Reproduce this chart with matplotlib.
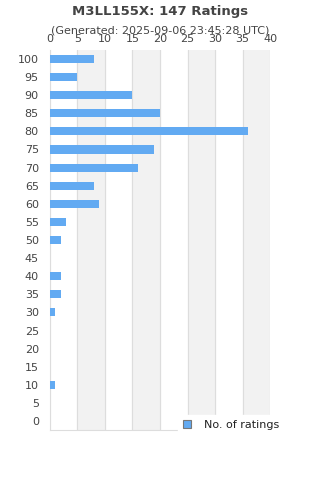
import numpy as np
import matplotlib
matplotlib.use("Agg")
import matplotlib.pyplot as plt

ratings = [0, 5, 10, 15, 20, 25, 30, 35, 40, 45, 50, 55, 60, 65, 70, 75, 80, 85, 90, 95, 100]
counts = [0, 0, 1, 0, 0, 0, 1, 2, 2, 0, 2, 3, 9, 8, 16, 19, 36, 20, 15, 5, 8]
xticks = [0, 5, 10, 15, 20, 25, 30, 35, 40]

txt = '#444444'
bar_color = '#62aaf2'

fig = plt.figure(figsize=(3.2, 4.8), dpi=100)
ax = fig.add_axes([0.156, 0.104, 0.688, 0.792])

pos = np.arange(len(ratings))
ax.barh(pos, counts, height=0.45, color=bar_color, label='No. of ratings', zorder=3)

# alternating bands
for i in range(1, len(xticks) - 1, 2):
    ax.axvspan(xticks[i], xticks[i + 1], color='#f2f2f2', zorder=0)
for x in xticks:
    ax.axvline(x, color='#dddddd', lw=0.8, zorder=1)

ax.set_xlim(0, 40)
ax.set_ylim(-0.5, len(ratings) - 0.5)
ax.set_yticks(pos)
ax.set_yticklabels([str(r) for r in ratings], fontsize=8, color=txt)
ax.set_xticks(xticks)
ax.set_xticklabels([str(x) for x in xticks], fontsize=8, color=txt)
ax.xaxis.tick_top()
ax.tick_params(axis='x', length=0, pad=4)
ax.tick_params(axis='y', length=0, pad=8)
for s in ['top', 'right']:
    ax.spines[s].set_visible(False)
for s in ['left', 'bottom']:
    ax.spines[s].set_color('#dddddd')

fig.text(0.5, 0.977, 'M3LL155X: 147 Ratings', ha='center', va='center',
         fontsize=9.5, fontweight='bold', color=txt)
fig.text(0.5, 0.937, '(Generated: 2025-09-06 23:45:28 UTC)', ha='center', va='center',
         fontsize=8, color=txt)

leg = ax.legend(loc='lower left', bbox_to_anchor=(0.58, -0.015), fontsize=8,
                frameon=True, fancybox=False, handlelength=0.7, handleheight=0.7,
                handletextpad=1.2, borderpad=0.5, borderaxespad=0)
leg.get_frame().set_edgecolor('white')
leg.get_frame().set_alpha(1)
leg.set_zorder(5)
leg.get_patches()[0].set_edgecolor('#777777')
leg.get_patches()[0].set_linewidth(0.8)
for t in leg.get_texts():
    t.set_color('#222222')

fig.savefig('out.png', dpi=100)
